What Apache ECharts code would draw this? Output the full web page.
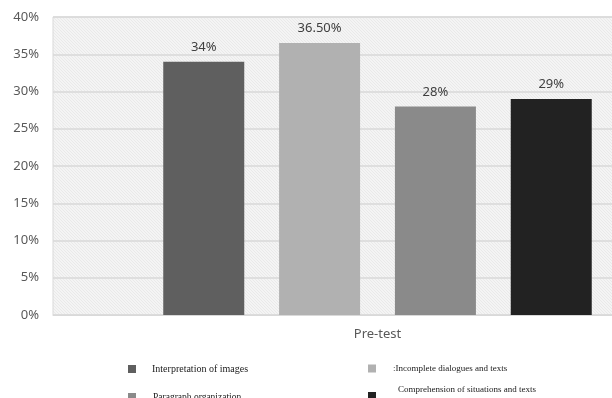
<!DOCTYPE html>
<html>
<head>
<meta charset="utf-8">
<script src="https://cdn.jsdelivr.net/npm/echarts@6/dist/echarts.min.js"></script>
<style>
  html, body { margin: 0; padding: 0; background: #ffffff; overflow: hidden; }
  #chart { width: 712px; height: 398px; }
</style>
</head>
<body>
<div id="chart"></div>
<script>
// Pre-test results by skill area (percent of students)
const categories = ['Pre-test'];
const seriesNames = [
  'Interpretation of images',
  ':Incomplete dialogues and texts',
  'Paragraph organization',
  'Comprehension of situations and texts'
];
const seriesValues = [34, 36.5, 28, 29];
const seriesColors = ['#5f5f5f', '#b1b1b1', '#8a8a8a', '#222222'];
const yTicks = { min: 0, max: 40, step: 5 };

// Light diagonal hatch used as the plot background
function hatchPattern() {
  const c = document.createElement('canvas');
  c.width = 3; c.height = 3;
  const g = c.getContext('2d');
  g.fillStyle = '#f4f4f4';
  g.fillRect(0, 0, 3, 3);
  g.fillStyle = '#e9e9e9';
  for (let i = 0; i < 3; i++) g.fillRect(i, i, 1, 1);
  return { image: c, repeat: 'repeat' };
}

function pct(v) {
  return (Number.isInteger(v) ? String(v) : v.toFixed(2)) + '%';
}

const series = seriesNames.map((name, i) => ({
  name: name,
  type: 'bar',
  data: [seriesValues[i]],
  barWidth: 81,
  barGap: '43%',
  itemStyle: { color: seriesColors[i] },
  label: {
    show: true,
    position: 'top',
    distance: 8,
    color: '#404040',
    fontFamily: 'Noto Sans',
    fontSize: 13,
    formatter: p => pct(p.value)
  }
}));

// One legend block per entry so each can sit where it belongs
const legendBase = {
  orient: 'horizontal',
  icon: 'rect',
  itemWidth: 8,
  itemHeight: 8,
  padding: 0,
  selectedMode: false
};
const legends = [
  Object.assign({}, legendBase, {
    data: [seriesNames[0]], left: 128, top: 364,
    textStyle: { fontFamily: 'Liberation Serif', fontSize: 10, color: '#1a1a1a', padding: [0, 0, 0, 11] }
  }),
  Object.assign({}, legendBase, {
    data: [seriesNames[1]], left: 368, top: 364,
    textStyle: { fontFamily: 'Liberation Serif', fontSize: 9, color: '#1a1a1a', padding: [0, 0, 0, 12] }
  }),
  Object.assign({}, legendBase, {
    data: [seriesNames[2]], left: 128, top: 392,
    textStyle: { fontFamily: 'Liberation Serif', fontSize: 9.5, color: '#1a1a1a', padding: [0, 0, 0, 12] }
  }),
  Object.assign({}, legendBase, {
    data: [seriesNames[3]], left: 368, top: 384,
    formatter: name => name + '\n ',
    textStyle: { fontFamily: 'Liberation Serif', fontSize: 9, lineHeight: 12, color: '#1a1a1a', padding: [0, 0, 0, 17] }
  })
];

const chart = echarts.init(document.getElementById('chart'), null, { renderer: 'canvas' });
chart.setOption({
  animation: false,
  backgroundColor: '#ffffff',
  grid: {
    show: true,
    left: 53,
    right: 10,
    top: 17,
    bottom: 83,
    backgroundColor: hatchPattern(),
    borderColor: '#d9d9d9',
    borderWidth: 1
  },
  legend: legends,
  xAxis: {
    type: 'category',
    data: categories,
    axisTick: { show: false },
    axisLine: { show: true, lineStyle: { color: '#d9d9d9', width: 1 } },
    axisLabel: {
      margin: 13,
      color: '#595959',
      fontFamily: 'Noto Sans',
      fontSize: 13
    }
  },
  yAxis: {
    type: 'value',
    min: yTicks.min,
    max: yTicks.max,
    interval: yTicks.step,
    axisLine: { show: false },
    axisTick: { show: false },
    splitLine: { show: true, lineStyle: { color: '#d9d9d9', width: 1.5 } },
    axisLabel: {
      margin: 14,
      color: '#595959',
      fontFamily: 'Noto Sans',
      fontSize: 13,
      formatter: '{value}%'
    }
  },
  series: series
});
</script>
</body>
</html>
